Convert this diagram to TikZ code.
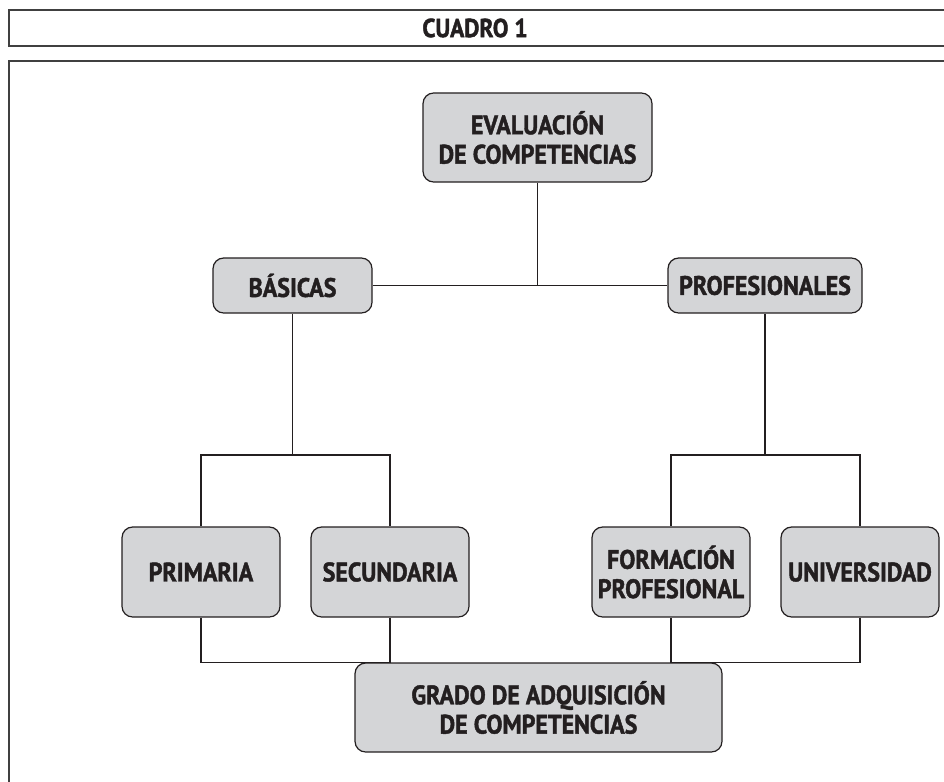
\documentclass[tikz,border=0pt]{standalone}
\usepackage{fontspec}
\setmainfont{PT Sans}
\newfontfamily\heavy[FakeStretch=0.9, BoldFeatures={FakeBold=1.6, FakeStretch=0.9}]{PT Sans}
\definecolor{boxgray}{HTML}{D4D5D7}
\definecolor{inkc}{HTML}{231F20}
\definecolor{framec}{HTML}{404040}
\tikzset{
  cbox/.style={draw=inkc, line width=0.9pt, fill=boxgray, rounded corners=8pt,
    inner sep=0pt, align=center, text=inkc,
    font=\heavy\bfseries\fontsize{20}{22}\selectfont},
  conn/.style={draw=inkc, line width=0.8pt},
  framel/.style={draw=framec, line width=1.2pt}
}
\newcommand{\bx}[5]{\node[cbox, minimum width=#3*0.75pt, minimum height=#4*0.75pt] (#1) at (#2) {#5};}
\begin{document}
\begin{tikzpicture}[x=0.75pt, y=-0.75pt]
\useasboundingbox (0,0) rectangle (944,781);
% header and frame
\draw[framel] (946,10) -- (9,10) -- (9,46) -- (946,46);
\draw[framel] (946,61) -- (9,61) -- (9,783);
\node[text=inkc, font=\heavy\bfseries\fontsize{19.5}{22}\selectfont] (title) at (475,28) {CUADRO 1};
% nodes
\bx{eval}{537.5,137.5}{229}{89}{EVALUACIÓN\\DE COMPETENCIAS}
\bx{bas}{292.5,285.5}{159}{55}{BÁSICAS}
\bx{prof}{765,285.5}{194}{55}{PROFESIONALES}
\bx{prim}{201,572}{158}{90}{PRIMARIA}
\bx{sec}{390,572}{158}{90}{SECUNDARIA}
\bx{form}{671,572}{158}{90}{FORMACIÓN\\PROFESIONAL}
\bx{univ}{860,572}{158}{90}{UNIVERSIDAD}
\bx{grado}{538.5,707.5}{367}{89}{GRADO DE ADQUISICIÓN\\DE COMPETENCIAS}
% coordinates
\coordinate (top) at (eval.south |- bas.east);
\coordinate (bl) at (292.5,455);
\coordinate (br) at (765,455);
\coordinate (gl) at (sec.south |- grado.north);
\coordinate (gr) at (form.south |- grado.north);
% connectors
\draw[conn] (eval.south) -- (top);
\draw[conn] (bas.east) -- (prof.west);
\draw[conn] (bas.south) -- (bl);
\draw[conn] (prim.north) |- (bl) -| (sec.north);
\draw[conn] (prof.south) -- (br);
\draw[conn] (form.north) |- (br) -| (univ.north);
\draw[conn] (prim.south) |- (gl) -- (sec.south);
\draw[conn] (univ.south) |- (gr) -- (form.south);
\end{tikzpicture}
\end{document}
